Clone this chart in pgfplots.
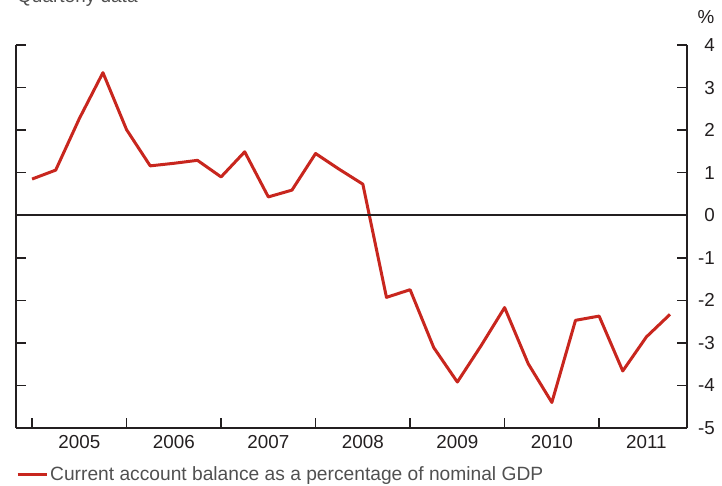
\documentclass[border=0pt]{standalone}
\usepackage{pgfplots}
\pgfplotsset{compat=1.18}
\usepackage{fontspec}
\setmainfont{Liberation Sans}
\definecolor{linered}{RGB}{200,38,30}
\definecolor{axisgray}{RGB}{35,31,32}
\definecolor{textgray}{RGB}{80,80,80}
\begin{document}
\begin{tikzpicture}[x=1pt,y=1pt]
\useasboundingbox (0,0) rectangle (722,485);
\begin{axis}[
  at={(16pt,57pt)}, anchor=south west,
  scale only axis, width=671pt, height=383pt,
  xmin=-0.68, xmax=27.72, ymin=-5, ymax=4,
  axis x line*=bottom,
  axis y line*=left,
  separate axis lines,
  axis line style={axisgray, line width=1.6pt},
  every tick/.style={axisgray, line width=1.6pt},
  major tick length=10pt,
  tick align=inside,
  xtick={0,4,8,12,16,20,24},
  xticklabels={},
  extra x ticks={2,6,10,14,18,22,26},
  extra x tick labels={2005,2006,2007,2008,2009,2010,2011},
  extra x tick style={major tick length=0pt, xticklabel style={yshift=-4pt}},
  ytick={-5,-4,...,4},
  yticklabels={},
  ticklabel style={font=\fontsize{18.8}{21}\selectfont, text=axisgray},
  legend style={at={(0,-0.122)}, anchor=west, draw=none, fill=none,
    inner sep=0pt, font=\fontsize{19.2}{21}\selectfont, text=textgray,
    legend cell align=left},
  legend image code/.code={\draw[#1] (0pt,0pt) -- (29pt,0pt);},
  clip=false,
]
\addplot[linered, line width=3pt, line join=round] coordinates {
(0,0.85) (1,1.06) (2,2.27) (3,3.35) (4,2.01) (5,1.16) (6,1.22) (7,1.29)
(8,0.90) (9,1.49) (10,0.43) (11,0.59) (12,1.45) (13,1.08) (14,0.73)
(15,-1.93) (16,-1.75) (17,-3.11) (18,-3.92) (19,-3.07) (20,-2.17)
(21,-3.49) (22,-4.40) (23,-2.47) (24,-2.37) (25,-3.66) (26,-2.86) (27,-2.33)
};
\addlegendentry{Current account balance as a percentage of nominal GDP}
\draw[axisgray, line width=1.6pt] (axis cs:-0.68,0) -- (axis cs:27.72,0);
\draw[axisgray, line width=1.6pt] (axis cs:27.72,-5) -- (axis cs:27.72,4);
\pgfplotsinvokeforeach{-5,-4,...,4}{
  \draw[axisgray, line width=1.6pt] (axis cs:27.72,#1) -- ++(-10pt,0pt);
  \node[anchor=east, inner sep=0pt, text=axisgray, font=\fontsize{18.8}{21}\selectfont] at ([xshift=28pt]axis cs:27.72,#1) {#1};
}
\end{axis}
\node[anchor=base west, inner sep=0pt, text=textgray, font=\fontsize{19}{21}\selectfont] at (17,482) {Quarterly data};
\node[text=axisgray, inner sep=0pt, font=\fontsize{18.8}{21}\selectfont] at (706,468) {\%};
\end{tikzpicture}
\end{document}
